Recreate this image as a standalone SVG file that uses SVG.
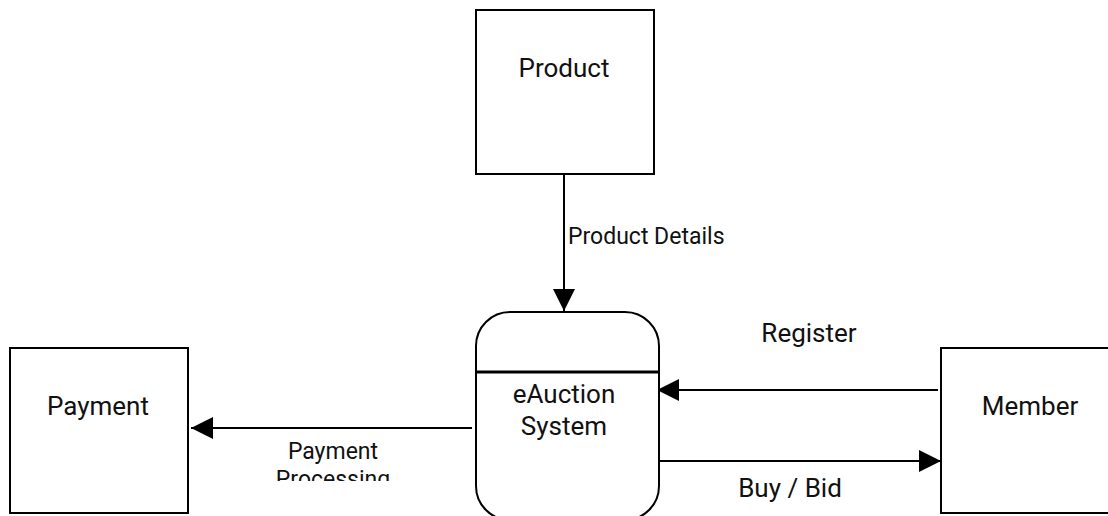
<svg xmlns="http://www.w3.org/2000/svg" width="1108" height="516" viewBox="0 0 1108 516">
<style>
.box{fill:#fff;stroke:#000;stroke-width:2}
.t{font-family:Roboto,"Liberation Sans",sans-serif;font-size:26px;fill:#111;text-anchor:middle}
.lbl{font-family:Roboto,"Liberation Sans",sans-serif;font-size:23px;fill:#111;text-anchor:middle}
.c{stroke:#000;stroke-width:2;fill:none}
</style>
<defs>
<marker id="ah" markerWidth="22" markerHeight="22" viewBox="0 0 22 22" refX="22" refY="11" orient="auto" markerUnits="userSpaceOnUse">
<path d="M0,0 L22,11 L0,22 Z" fill="#000"/>
</marker>
<clipPath id="clipPP"><rect x="250" y="430" width="200" height="51"/></clipPath>
</defs>
<rect width="1108" height="516" fill="#fff"/>
<g id="connectors">
<line class="c" x1="564" y1="174" x2="564" y2="311" marker-end="url(#ah)"/>
<text class="lbl" x="568" y="244" style="text-anchor:start">Product Details</text>
<line class="c" x1="938" y1="390" x2="657" y2="390" marker-end="url(#ah)"/>
<text class="t" x="809" y="342">Register</text>
<line class="c" x1="660" y1="461" x2="941" y2="461" marker-end="url(#ah)"/>
<text class="t" x="790" y="497">Buy / Bid</text>
<line class="c" x1="472" y1="428" x2="191" y2="428" marker-end="url(#ah)"/>
<g clip-path="url(#clipPP)">
<text class="lbl" x="333" y="459">Payment</text>
<text class="lbl" x="333" y="487">Processing</text>
</g>
</g>
<g id="product">
<rect class="box" x="476" y="10" width="178" height="164"/>
<text class="t" x="564" y="77">Product</text>
</g>
<g id="eauction">
<rect class="box" x="476" y="312" width="183" height="208" rx="34" ry="34"/>
<line x1="476" y1="372" x2="659" y2="372" stroke="#000" stroke-width="3"/>
<text class="t" x="564" y="403">eAuction</text>
<text class="t" x="564" y="435">System</text>
</g>
<g id="payment">
<rect class="box" x="10" y="348" width="178" height="165"/>
<text class="t" x="98" y="415">Payment</text>
</g>
<g id="member">
<rect class="box" x="941" y="348" width="178" height="165"/>
<text class="t" x="1030" y="415">Member</text>
</g>
</svg>
